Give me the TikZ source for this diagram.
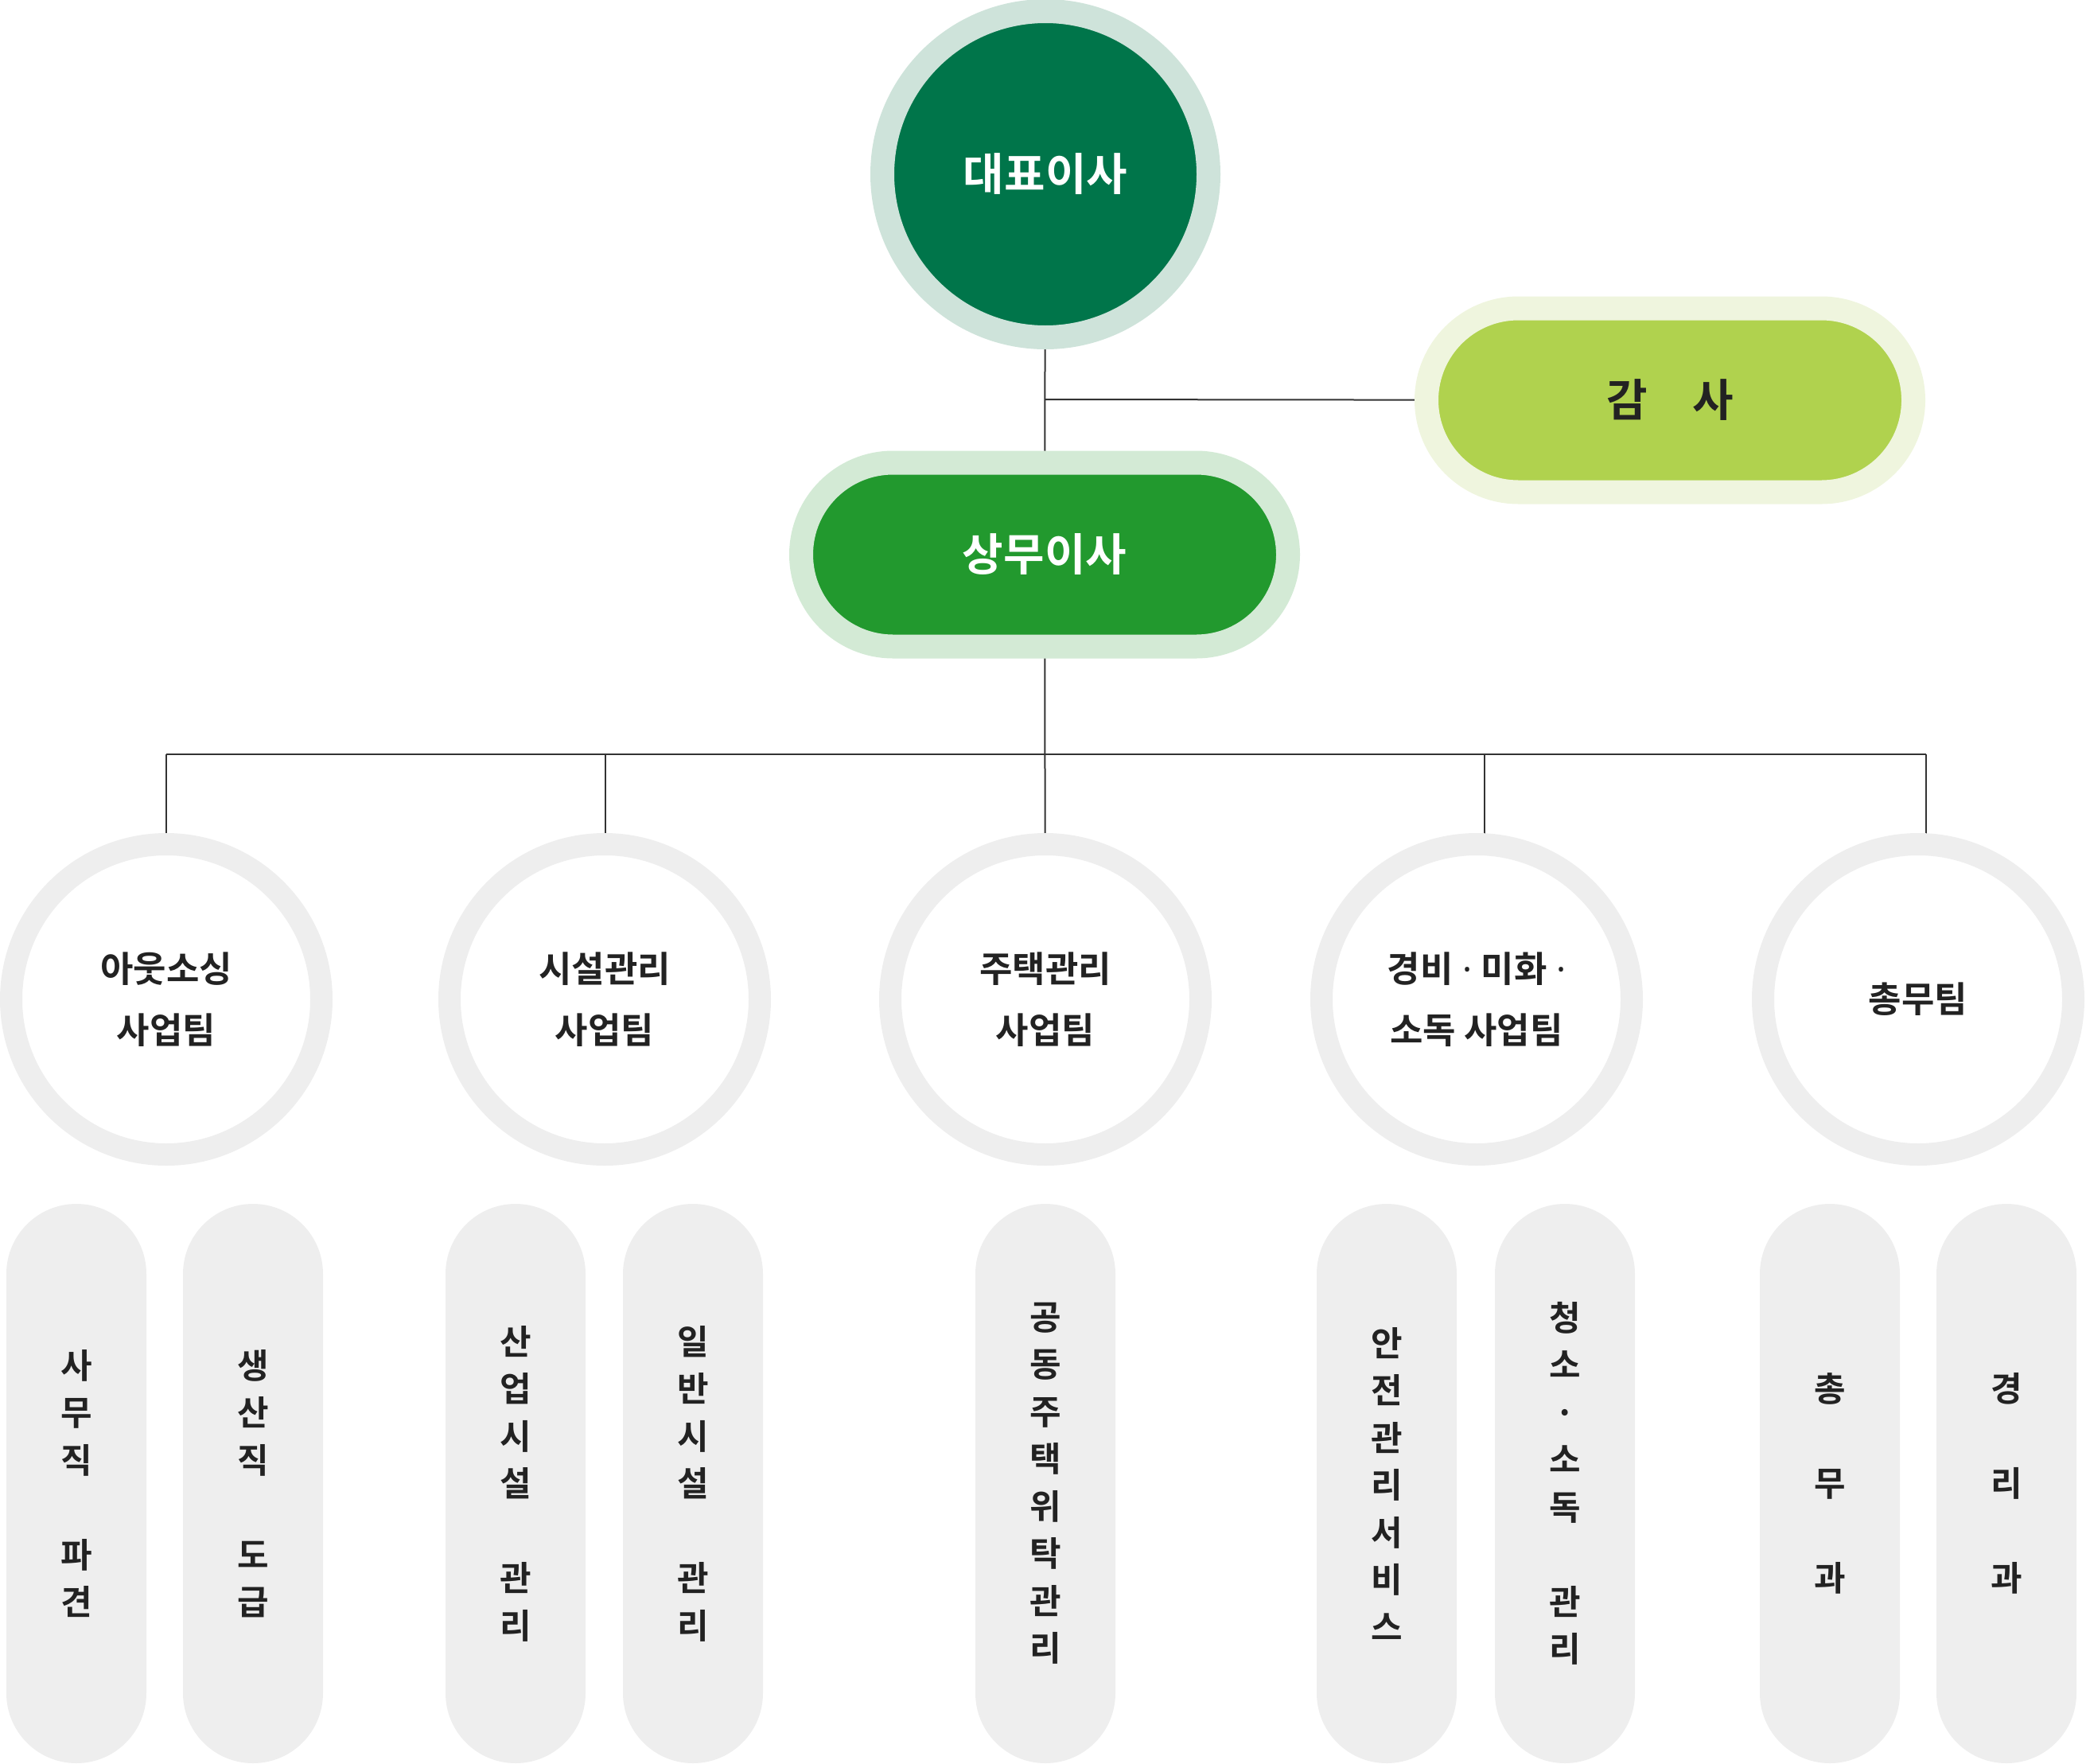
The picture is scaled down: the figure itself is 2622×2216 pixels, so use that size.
\documentclass[tikz,border=0pt]{standalone}
\usepackage{fontspec}
\newfontfamily\krfont{Noto Sans CJK KR}[BoldFont={Noto Sans CJK KR Bold}]
\newfontfamily\latfont{Noto Sans}
\usetikzlibrary{backgrounds}
\definecolor{ceofill}{HTML}{00754A}
\definecolor{ceoring}{HTML}{CEE3DA}
\definecolor{coofill}{HTML}{22992E}
\definecolor{cooring}{HTML}{D3EAD5}
\definecolor{audfill}{HTML}{B0D24E}
\definecolor{audring}{HTML}{EFF5DE}
\definecolor{ringgray}{HTML}{EEEEEE}
\definecolor{pillgray}{HTML}{EEEEEE}
\definecolor{txt}{HTML}{222222}
\definecolor{linec}{HTML}{333333}
\newcommand\bigfont{\krfont\bfseries\fontsize{56}{66}\selectfont}
\newcommand\teamfont{\krfont\bfseries\fontsize{45}{77}\selectfont}
\newcommand\pillfont{\krfont\bfseries\fontsize{43}{59.5}\selectfont}
\newcommand\mdot{{\latfont\bfseries{} · }}
\tikzset{
  ceonode/.style={circle, fill=ceofill, draw=ceoring, line width=30pt, minimum size=410pt, inner sep=0pt, text=white, font=\bigfont},
  pillbig/.style={rectangle, line width=30pt, minimum width=612pt, minimum height=231pt, rounded corners=115.5pt, inner sep=0pt, font=\bigfont},
  team/.style={circle, draw=ringgray, line width=28pt, fill=white, minimum size=390pt, inner sep=0pt, align=center, font=\teamfont, text=txt},
  pill/.style={rectangle, fill=pillgray, minimum width=176pt, minimum height=703pt, rounded corners=88pt, inner sep=0pt, align=center, font=\pillfont, text=txt},
  conn/.style={draw=linec, line width=2pt},
}
\begin{document}
\begin{tikzpicture}[x=1pt,y=-1pt]
\useasboundingbox (0,0) rectangle (2622,2216);
% top
\node[ceonode] (ceo) at (1314,219) {대표이사};
\node[pillbig, fill=coofill, draw=cooring, text=white] (coo) at (1313,697) {상무이사};
\node[pillbig, fill=audfill, draw=audring, text=txt] (aud) at (2099,503) {감　사};
% teams
\node[team] (t1) at (209,1256) {아웃소싱\\사업팀};
\node[team] (t2) at (760,1256) {시설관리\\사업팀};
\node[team] (t3) at (1314,1256) {주택관리\\사업팀};
\node[team] (t4) at (1856,1256) {경비\mdot 미화\mdot\\소독 사업팀};
\node[team] (t5) at (2411,1256) {총무팀};
% pills
\node[pill] (p1) at (96,1864.5) {사\\무\\직\\~\\파\\견};
\node[pill] (p2) at (318,1864.5) {생\\산\\직\\~\\도\\급};
\node[pill] (p3) at (648,1864.5) {산\\업\\시\\설\\~\\관\\리};
\node[pill] (p4) at (871,1864.5) {일\\반\\시\\설\\~\\관\\리};
\node[pill] (p5) at (1314,1864.5) {공\\동\\주\\택\\위\\탁\\관\\리};
\node[pill] (p6) at (1743,1864.5) {안\\전\\관\\리\\서\\비\\스};
\node[pill] (p7) at (1967,1864.5) {청\\소\\·\\소\\독\\~\\관\\리};
\node[pill] (p8) at (2300,1864.5) {총\\~\\무\\~\\과};
\node[pill] (p9) at (2522,1864.5) {경\\~\\리\\~\\과};
% connectors
\coordinate (br) at (1314,502);
\coordinate (d1) at (209,948);
\coordinate (d2) at (761,948);
\coordinate (d4) at (1866,948);
\coordinate (d5) at (2421,948);
\begin{scope}[on background layer]
\draw[conn] (ceo.center) -- (coo.center);
\draw[conn] (br) -- (aud.center);
\draw[conn] (coo.center) -- (t3.center);
\draw[conn] (d1) -- (d5);
\draw[conn] (d1) -- (t1.center);
\draw[conn] (d2) -- (d2 |- t2.center);
\draw[conn] (d4) -- (d4 |- t4.center);
\draw[conn] (d5) -- (d5 |- t5.center);
\end{scope}
\end{tikzpicture}
\end{document}
